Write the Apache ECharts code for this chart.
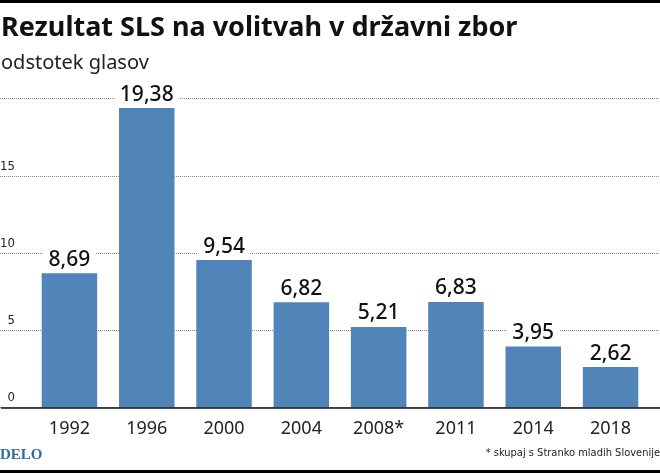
<!DOCTYPE html>
<html>
<head>
<meta charset="utf-8">
<style>html,body{margin:0;padding:0;background:#fff}#main{width:660px;height:473px}</style>
<script src="https://cdn.jsdelivr.net/npm/echarts@6/dist/echarts.min.js"></script>
</head>
<body>
<div id="main"></div>
<script>
let years = ['1992', '1996', '2000', '2004', '2008*', '2011', '2014', '2018']
let shares = [8.69, 19.38, 9.54, 6.82, 5.21, 6.83, 3.95, 2.62]
let yTicks = ['0', '5', '10', '15']

let font = '"Noto Sans", sans-serif'
let narrow = '"DejaVu Sans Condensed", "Roboto Condensed", Roboto, sans-serif'
let plotTop = 98.5
let plotBottom = 473 - 407.5

let mychart = echarts.init(document.getElementById('main'))

let option = {
    animation: false,
    backgroundColor: '#fff',
    title: [{
        text: 'Rezultat SLS na volitvah v državni zbor',
        left: 1, top: 15, padding: 0,
        textStyle: { fontFamily: font, fontSize: 27, fontWeight: 'bold', color: '#111' }
    }, {
        text: 'odstotek glasov',
        left: 1, top: 53, padding: 0,
        textStyle: { fontFamily: font, fontSize: 20, fontWeight: 'normal', color: '#222' }
    }, {
        text: 'DELO',
        left: 0, top: 448, padding: 0,
        textStyle: { fontFamily: '"Liberation Serif", serif', fontSize: 15, fontWeight: 'bold', color: '#2f6f9f' }
    }, {
        text: '* skupaj s Stranko mladih Slovenije',
        right: 0, top: 448, padding: 0,
        textStyle: { fontFamily: narrow, fontSize: 11, fontWeight: 'normal', color: '#222' }
    }],
    graphic: [
        { type: 'rect', shape: { x: 0, y: 0, width: 660, height: 3 }, style: { fill: '#000' } },
        { type: 'rect', shape: { x: 0, y: 470, width: 660, height: 3 }, style: { fill: '#000' } }
    ],
    // first grid runs the full width for the dotted lines, second one holds the bars
    grid: [
        { left: 0, right: 0, top: plotTop, bottom: plotBottom, outerBoundsMode: 'none' },
        { left: 30.8, right: 10.8, top: plotTop, bottom: plotBottom, outerBoundsMode: 'none' }
    ],
    xAxis: [{
        gridIndex: 0, type: 'category', data: years, show: false
    }, {
        gridIndex: 1, type: 'category', data: years,
        axisLine: { show: false },
        axisTick: { show: false },
        axisLabel: { fontFamily: font, fontSize: 18, color: '#222', margin: 12, interval: 0 }
    }],
    yAxis: [{
        gridIndex: 0, type: 'value', min: 0, max: 20, interval: 5,
        axisLine: { show: false },
        axisTick: { show: false },
        splitLine: { lineStyle: { type: [1, 1], color: '#888', width: 1 } },
        axisLabel: {
            inside: true, margin: 15, align: 'right', verticalAlign: 'bottom',
            padding: [0, 0, 3, 0],
            fontFamily: narrow, fontSize: 13, color: '#222',
            formatter: function (v) { return yTicks.indexOf(String(v)) >= 0 ? String(v) : '' }
        }
    }, {
        gridIndex: 1, type: 'value', min: 0, max: 20, interval: 5, show: false
    }],
    series: [{
        type: 'bar',
        xAxisIndex: 1, yAxisIndex: 1,
        data: shares,
        barWidth: 55.5,
        itemStyle: { color: '#5185b9' },
        label: {
            show: true, position: 'top', distance: 3,
            backgroundColor: '#fff',
            padding: [0, 5, 0, 5],
            fontFamily: font, fontSize: 21, fontWeight: 500, color: '#111',
            formatter: function (p) { return p.value.toFixed(2).replace('.', ',') }
        },
        markLine: {
            silent: true, symbol: 'none', label: { show: false },
            lineStyle: { type: 'solid', color: '#111', width: 1.5 },
            data: [[{ x: 1, yAxis: 0 }, { x: 660, yAxis: 0 }]]
        }
    }]
}
mychart.setOption(option)
</script>
</body>
</html>
